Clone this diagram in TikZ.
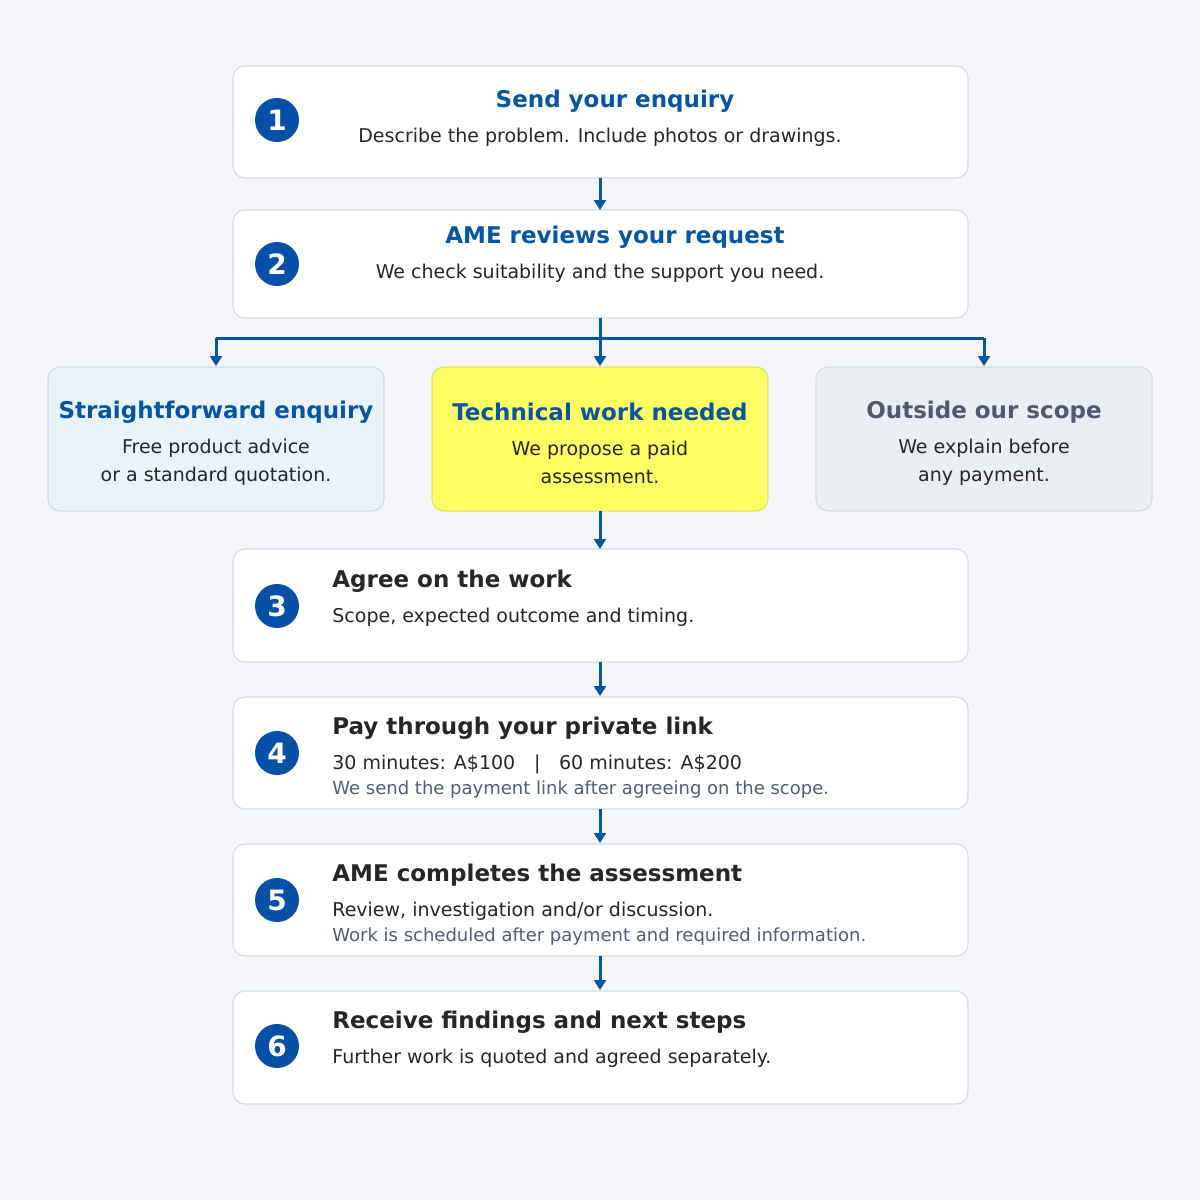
\documentclass[tikz,border=0pt]{standalone}
\usepackage{fontspec}
\setmainfont{DejaVu Sans}
\usetikzlibrary{arrows.meta}
\definecolor{bgc}{RGB}{244,246,250}
\definecolor{edgec}{RGB}{214,220,228}
\definecolor{amblue}{RGB}{4,86,162}
\definecolor{dotblue}{RGB}{6,80,168}
\definecolor{inkc}{RGB}{38,38,38}
\definecolor{notec}{RGB}{80,95,115}
\definecolor{greyt}{RGB}{80,90,108}
\definecolor{lightb}{RGB}{234,242,252}
\definecolor{lighty}{RGB}{255,254,98}
\definecolor{yedge}{RGB}{228,222,120}
\definecolor{lightg}{RGB}{234,237,242}
\tikzset{
    card/.style={draw=edgec, line width=0.6pt, rounded corners=6pt, fill=white},
    num/.style={circle, fill=dotblue, minimum size=22pt, inner sep=0pt, text=white, font=\fontsize{14}{14}\selectfont\bfseries},
    ttl/.style={font=\fontsize{11.5}{14}\selectfont\bfseries, text=inkc, inner sep=0pt},
    sub/.style={font=\fontsize{9.5}{14}\selectfont, text=inkc, inner sep=0pt, align=center},
    note/.style={font=\fontsize{9}{13}\selectfont, text=notec, inner sep=0pt},
    flow/.style={draw=amblue, line width=1.5pt, -{Triangle[length=5pt,width=6pt]}}
}
\begin{document}
\begin{tikzpicture}[x=0.5pt, y=-0.5pt]
    \fill[bgc] (0,0) rectangle (1200,1200);
    % main steps
    \draw[card] (233,66) rectangle (968,178);
    \draw[card] (233,210) rectangle (968,318);
    \draw[card] (233,549) rectangle (968,662);
    \draw[card] (233,697) rectangle (968,809);
    \draw[card] (233,844) rectangle (968,956);
    \draw[card] (233,991) rectangle (968,1104);
    % branches
    \draw[card, fill=lightb] (48,367) rectangle (384,511);
    \draw[card, fill=lighty, draw=yedge] (432,367) rectangle (768,511);
    \draw[card, fill=lightg] (816,367) rectangle (1152,511);
    % numbers
    \foreach \n/\y in {1/120, 2/264, 3/606, 4/753, 5/900, 6/1046}
        \node[num] (n\n) at (277,\y) {\n};
    % step texts
    \node[ttl, text=amblue] (t1) at (615,101) {Send your enquiry};
    \node[sub] (s1) at (600,137) {Describe the problem. Include photos or drawings.};
    \node[ttl, text=amblue] (t2) at (615,237) {AME reviews your request};
    \node[sub] (s2) at (600,273) {We check suitability and the support you need.};
    \node[ttl, text=amblue] (b1) at (216,412) {Straightforward enquiry};
    \node[sub] (c1) at (216,462) {Free product advice\\or a standard quotation.};
    \node[ttl, text=amblue] (b2) at (600,412) {Technical work needed};
    \node[sub] (c2) at (600,462) {We propose a paid\\assessment.};
    \node[ttl, text=greyt] (b3) at (984,412) {Outside our scope};
    \node[sub] (c3) at (984,462) {We explain before\\any payment.};
    \node[ttl, anchor=west] (t3) at (332,581) {Agree on the work};
    \node[sub, anchor=west] (s3) at (332,617) {Scope, expected outcome and timing.};
    \node[ttl, anchor=west] (t4) at (332,728) {Pay through your private link};
    \node[sub, anchor=west] (s4) at (332,764) {30 minutes: A\$100 \enspace\,|\, \enspace 60 minutes: A\$200};
    \node[note, anchor=west] (m4) at (332,790) {We send the payment link after agreeing on the scope.};
    \node[ttl, anchor=west] (t5) at (332,875) {AME completes the assessment};
    \node[sub, anchor=west] (s5) at (332,911) {Review, investigation and/or discussion.};
    \node[note, anchor=west] (m5) at (332,937) {Work is scheduled after payment and required information.};
    \node[ttl, anchor=west] (t6) at (332,1022) {Receive findings and next steps};
    \node[sub, anchor=west] (s6) at (332,1058) {Further work is quoted and agreed separately.};
    % connectors
    \coordinate (j) at (600,338);
    \draw[flow] (600,178) -- (600,210);
    \draw[draw=amblue, line width=1.5pt] (600,318) -- (j);
    \draw[draw=amblue, line width=1.5pt] (216,338) -- (984,338);
    \draw[flow] (216,338) -- (216,366);
    \draw[flow] (j) -- (600,366);
    \draw[flow] (984,338) -- (984,366);
    \draw[flow] (600,511) -- (600,549);
    \draw[flow] (600,662) -- (600,696);
    \draw[flow] (600,809) -- (600,843);
    \draw[flow] (600,956) -- (600,990);
\end{tikzpicture}
\end{document}
